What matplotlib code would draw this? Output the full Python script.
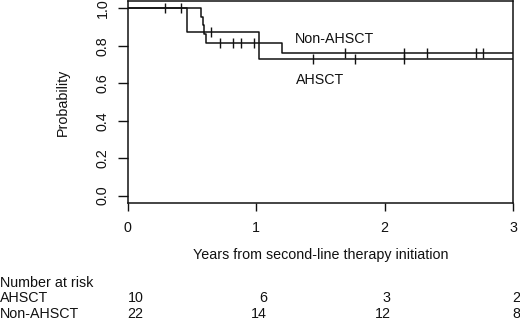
import numpy as np
import matplotlib
matplotlib.use("Agg")
import matplotlib.pyplot as plt
from matplotlib.transforms import blended_transform_factory

plt.rcParams['font.family'] = ['Liberation Sans', 'DejaVu Sans']
plt.rcParams['font.size'] = 10.3

# Kaplan-Meier steps (event times, survival after event)
ahsct_t = [0, 0.46, 1.02]
ahsct_s = [1.0, 0.875, 0.729]
ahsct_cens = [0.29, 0.41, 0.65, 1.44, 1.77, 2.15]

non_t = [0, 0.57, 0.585, 0.595, 0.605, 1.2]
non_s = [1.0, 0.955, 0.909, 0.864, 0.818, 0.760]
non_cens = [0.72, 0.82, 0.88, 0.98, 1.69, 2.15, 2.33, 2.71, 2.77]

# number at risk table
risk_times = [0, 1, 2, 3]
risk_groups = ["AHSCT", "Non-AHSCT"]
risk_ahsct = [10, 6, 3, 2]
risk_non = [22, 14, 12, 8]

x_ticks = [0, 1, 2, 3]
y_ticks = [0.0, 0.2, 0.4, 0.6, 0.8, 1.0]

col = "#111111"


def surv_at(times, surv, x):
    idx = np.searchsorted(times, x, side="right") - 1
    return np.array(surv)[idx]


fig = plt.figure(figsize=(5.2, 3.28), dpi=100)
ax = fig.add_axes([0.246, 0.381, 0.7405, 0.616])

for t, s, c in [(ahsct_t, ahsct_s, ahsct_cens), (non_t, non_s, non_cens)]:
    tt = list(t) + [3.3]
    ss = list(s) + [s[-1]]
    ax.plot(tt, ss, drawstyle="steps-post", color=col, lw=1.1)
    ax.plot(c, surv_at(t, s, c), ls="none", marker="|", ms=7, mew=1.0, color=col)

ax.text(1.30, 0.836, "Non-AHSCT", ha="left", va="center", color=col)
ax.text(1.31, 0.618, "AHSCT", ha="left", va="center", color=col)

ax.set_xlim(0, 3)
ax.set_ylim(-0.04, 1.04)
ax.set_xticks(x_ticks)
ax.set_xticklabels([str(v) for v in x_ticks])
ax.set_yticks(y_ticks)
ax.set_yticklabels(["%.1f" % v for v in y_ticks], rotation=90, va="center")
ax.tick_params(axis="x", length=6, width=1, pad=7, colors=col)
ax.tick_params(axis="y", length=7, width=1, pad=6, colors=col)
for sp in ax.spines.values():
    sp.set_linewidth(1.1)
    sp.set_color(col)

ax.set_xlabel("Years from second-line therapy initiation", labelpad=9, color=col)
ax.set_ylabel("Probability", labelpad=19, color=col)

# risk table
fig.text(0.0, 1 - 283 / 328, "Number at risk", ha="left", va="center", color=col)
row_y = [1 - 298 / 328, 1 - 314 / 328]
risk_x = [0.12, 1.085, 2.045, 3.055]
trans = blended_transform_factory(ax.transData, fig.transFigure)
for name, vals, y in zip(risk_groups, [risk_ahsct, risk_non], row_y):
    fig.text(0.0, y, name, ha="left", va="center", color=col)
    for xv, v in zip(risk_x, vals):
        ax.text(xv, y, str(v), transform=trans, ha="right", va="center",
                color=col, clip_on=False)

fig.savefig("out.png", dpi=100)
